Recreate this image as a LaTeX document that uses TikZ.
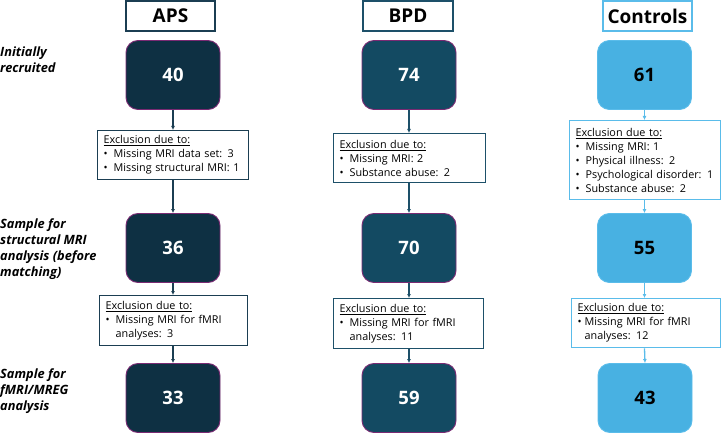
\documentclass[tikz,border=0pt]{standalone}
\usepackage{fontspec}
\setmainfont{Open Sans}
\usetikzlibrary{arrows.meta}
\definecolor{apsfill}{HTML}{0E3043}
\definecolor{bpdfill}{HTML}{134A62}
\definecolor{ctlfill}{HTML}{48B1E2}
\definecolor{ctlline}{HTML}{5ABCEA}
\definecolor{purp}{HTML}{7A2A73}
\definecolor{apsline}{HTML}{1B3E52}
\definecolor{bpdline}{HTML}{1D5069}
\newcommand\bl[1]{\makebox[10pt][l]{\textbullet}#1}
\newcommand\bls[1]{\makebox[7pt][l]{\textbullet}#1}
\newcommand\ind[1]{\hspace*{10pt}#1}
\newcommand\inds[1]{\hspace*{7pt}#1}
\tikzset{
  hdr/.style={draw, line width=1.3pt, minimum width=89pt, minimum height=30pt, inner sep=0pt, font=\fontsize{19}{21}\selectfont\bfseries},
  numbox/.style={draw=purp, line width=0.9pt, rounded corners=12pt, minimum width=94pt, minimum height=69pt, inner sep=0pt, font=\fontsize{18.5}{21}\selectfont\bfseries},
  excl/.style={draw, line width=1.3pt, anchor=north west, inner xsep=6pt, inner ysep=0pt, align=left, font=\fontsize{10.8}{14}\selectfont},
  sidelab/.style={anchor=west, align=left, inner sep=0pt, font=\fontsize{12.8}{16}\selectfont\bfseries\itshape},
  arr/.style={line width=1.3pt, -{Latex[length=4pt,width=4pt]}}
}
\begin{document}
\begin{tikzpicture}[x=1pt,y=-1pt]
\useasboundingbox (0,0) rectangle (721,433);
% headers
\node[hdr, draw=apsline] (ah) at (170.5,16) {APS};
\node[hdr, draw=bpdline, minimum width=90pt] (bh) at (408,16) {BPD};
\node[hdr, draw=ctlline] (ch) at (647.5,16) {Controls};
% side labels
\node[sidelab] (l1) at (0,60) {Initially\\recruited};
\node[sidelab] (l2) at (0,249) {Sample for\\structural MRI\\analysis (before\\matching)};
\node[sidelab] (l3) at (0,391) {Sample for\\fMRI/MREG\\analysis};
% APS column
\node[numbox, fill=apsfill, text=white] (a1) at (173,75) {40};
\node[numbox, fill=apsfill, text=white] (a2) at (173,248) {36};
\node[numbox, fill=apsfill, text=white] (a3) at (173,398) {33};
\node[excl, draw=apsline, text width=139pt, minimum height=49pt] (ax1) at (97,130)
  {\underline{Exclusion due to:}\\\bl{Missing MRI data set: 3}\\\bl{Missing structural MRI: 1}};
\node[excl, draw=apsline, text width=136pt, minimum height=50pt] (ax2) at (99,295)
  {\underline{Exclusion due to:}\\\bl{Missing MRI for fMRI}\\\ind{analyses: 3}};
% BPD column
\node[numbox, fill=bpdfill, text=white] (b1) at (409,75) {74};
\node[numbox, fill=bpdfill, text=white] (b2) at (409,248) {70};
\node[numbox, fill=bpdfill, text=white] (b3) at (409,398) {59};
\node[excl, draw=bpdline, text width=140pt, minimum height=49pt] (bx1) at (333,133)
  {\underline{Exclusion due to:}\\\bl{Missing MRI: 2}\\\bl{Substance abuse: 2}};
\node[excl, draw=bpdline, text width=138pt, minimum height=50pt] (bx2) at (333,298)
  {\underline{Exclusion due to:}\\\bl{Missing MRI for fMRI}\\\ind{analyses: 11}};
% Controls column
\node[numbox, fill=ctlfill, draw=ctlline, text=black] (c1) at (644.5,75) {61};
\node[numbox, fill=ctlfill, draw=ctlline, text=black] (c2) at (644.5,248) {55};
\node[numbox, fill=ctlfill, draw=ctlline, text=black] (c3) at (645,398) {43};
\node[excl, draw=ctlline, text width=139pt, minimum height=79pt] (cx1) at (569,120)
  {\underline{Exclusion due to:}\\\bl{Missing MRI: 1}\\\bl{Physical illness: 2}\\\bl{Psychological disorder: 1}\\\bl{Substance abuse: 2}};
\node[excl, draw=ctlline, text width=137pt, minimum height=49pt] (cx2) at (571,298)
  {\underline{Exclusion due to:}\\\bls{Missing MRI for fMRI}\\\inds{analyses: 12}};
% arrows
\draw[arr, draw=apsline] (a1.south) -- (a1.south |- ax1.north);
\draw[arr, draw=apsline] (a1.south |- ax1.south) -- (a2.north);
\draw[arr, draw=apsline] (a2.south) -- (a2.south |- ax2.north);
\draw[arr, draw=apsline] (a2.south |- ax2.south) -- (a3.north);
\draw[arr, draw=bpdline] (b1.south) -- (b1.south |- bx1.north);
\draw[arr, draw=bpdline] (b1.south |- bx1.south) -- (b2.north);
\draw[arr, draw=bpdline] (b2.south) -- (b2.south |- bx2.north);
\draw[arr, draw=bpdline] (b2.south |- bx2.south) -- (b3.north);
\draw[arr, draw=ctlline] (c1.south) -- (c1.south |- cx1.north);
\draw[arr, draw=ctlline] (c1.south |- cx1.south) -- (c2.north);
\draw[arr, draw=ctlline] (c2.south) -- (c2.south |- cx2.north);
\draw[arr, draw=ctlline] (c2.south |- cx2.south) -- (c3.north);
\end{tikzpicture}
\end{document}
